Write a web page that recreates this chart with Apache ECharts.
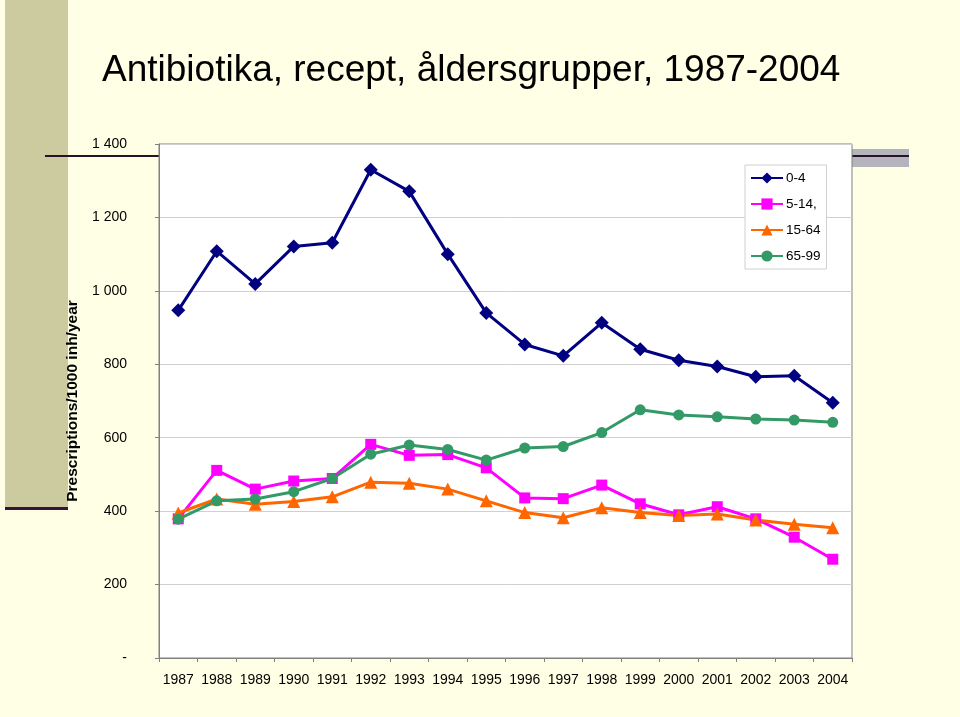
<!DOCTYPE html>
<html>
<head>
<meta charset="utf-8">
<script src="https://cdn.jsdelivr.net/npm/echarts@6/dist/echarts.min.js"></script>
<style>
html,body{margin:0;padding:0;background:#FFFFE5;}
#chart{width:960px;height:717px;}
</style>
</head>
<body>
<div id="chart"></div>
<script>
const titleText = 'Antibiotika, recept, åldersgrupper, 1987-2004';
const yAxisName = 'Prescriptions/1000 inh/year';
const years = ['1987','1988','1989','1990','1991','1992','1993','1994','1995','1996','1997','1998','1999','2000','2001','2002','2003','2004'];
const seriesNames = ['0-4', '5-14,', '15-64', '65-99'];
const age0to4 = [947,1108,1019,1121,1131,1330,1271,1100,940,854,823,913,841,811,794,766,769,695];
const age5to14 = [379,511,460,482,489,582,552,554,518,436,434,471,420,390,412,379,329,269];
const age15to64 = [395,433,419,426,439,479,476,460,428,396,382,409,396,388,392,376,364,355];
const age65to99 = [378,428,433,453,489,555,580,568,539,572,576,614,676,662,657,651,648,642];
const yMin = 0, yMax = 1400, yStep = 200;

const FONT = '"Liberation Sans", Arial, sans-serif';
const chart = echarts.init(document.getElementById('chart'));

function fmtY(v) {
  if (v === 0) return '-';
  const s = String(v);
  return s.length > 3 ? s.slice(0, s.length - 3) + ' ' + s.slice(-3) : s;
}

const styles = [
  { color: '#000080', symbol: 'diamond', size: 14 },
  { color: '#FF00FF', symbol: 'rect', size: 11 },
  { color: '#FF6600', symbol: 'triangle', size: 13 },
  { color: '#339966', symbol: 'circle', size: 11 }
];
const dataSets = [age0to4, age5to14, age15to64, age65to99];

chart.setOption({
  backgroundColor: '#FFFFE5',
  animation: false,
  title: {
    text: titleText,
    left: 97, top: 47,
    textStyle: { fontFamily: FONT, fontSize: 37, fontWeight: 'normal', color: '#000', lineHeight: 37 }
  },
  graphic: [
    { type: 'rect', z: -10, shape: { x: 5, y: 0, width: 63, height: 507 }, style: { fill: '#CCCBA0' } },
    { type: 'rect', z: -10, shape: { x: 5, y: 507, width: 63, height: 3 }, style: { fill: '#3A1238' } },
    { type: 'rect', z: -10, shape: { x: 45, y: 155, width: 114, height: 2 }, style: { fill: '#2A1028' } },
    { type: 'rect', z: -10, shape: { x: 852, y: 149, width: 57, height: 18 }, style: { fill: '#B4B4BC' } },
    { type: 'rect', z: -10, shape: { x: 852, y: 155, width: 57, height: 2 }, style: { fill: '#2A1028' } }
  ],
  legend: {
    orient: 'vertical',
    left: 745, top: 165,
    width: 79,
    padding: [6, 6, 6, 5],
    itemWidth: 32, itemHeight: 14, itemGap: 12,
    backgroundColor: '#FFFFFF',
    borderColor: '#D0D0D0', borderWidth: 1,
    textStyle: { fontFamily: FONT, fontSize: 13.5, color: '#000', padding: [0, 0, 0, -2] },
    data: seriesNames
  },
  grid: {
    left: 159, top: 144, right: 108, bottom: 59,
    containLabel: false,
    outerBoundsMode: 'none',
    show: true, backgroundColor: '#FFFFFF', borderColor: '#808080', borderWidth: 1
  },
  xAxis: {
    type: 'category',
    data: years,
    boundaryGap: true,
    axisLine: { lineStyle: { color: '#808080', width: 1 } },
    axisTick: { show: true, interval: 0, length: 4, lineStyle: { color: '#808080' } },
    axisLabel: { interval: 0, margin: 15, fontFamily: FONT, fontSize: 14, color: '#000' },
    splitLine: { show: false }
  },
  yAxis: {
    type: 'value',
    min: yMin, max: yMax, interval: yStep,
    name: yAxisName,
    nameLocation: 'middle',
    nameRotate: 90,
    nameGap: 71,
    nameTextStyle: { fontFamily: FONT, fontSize: 15.5, fontWeight: 'bold', color: '#000' },
    axisLine: { show: true, lineStyle: { color: '#808080', width: 1 } },
    axisTick: { show: true, length: 4, lineStyle: { color: '#808080' } },
    axisLabel: { margin: 32, fontFamily: FONT, fontSize: 14, color: '#000', formatter: fmtY },
    splitLine: { show: true, lineStyle: { color: '#D0D0D0', width: 1 } }
  },
  series: seriesNames.map((name, i) => ({
    name: name,
    type: 'line',
    data: dataSets[i],
    symbol: styles[i].symbol,
    symbolSize: styles[i].size,
    showAllSymbol: true,
    lineStyle: { color: styles[i].color, width: 3 },
    itemStyle: { color: styles[i].color, borderWidth: 0 },
    emphasis: { disabled: true }
  }))
});
</script>
</body>
</html>
